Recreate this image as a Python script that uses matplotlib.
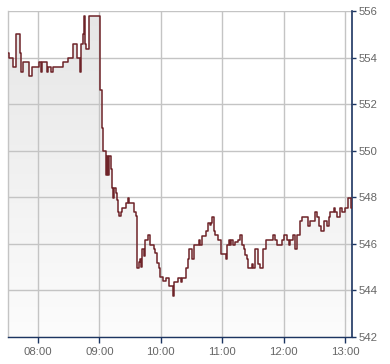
import matplotlib
matplotlib.use("Agg")
import matplotlib.pyplot as plt
import numpy as np

# minutes after 07:30 where the price changes, and the price from then on
minutes = [0, 2, 6, 9, 12, 13, 15, 21, 24, 31, 33, 34, 39, 40, 43, 45, 54, 59,
           64, 68, 71, 72, 74, 75, 76, 77, 80, 91, 93, 94, 96, 97, 98, 99, 101,
           102, 103, 104, 106, 107, 108, 109, 111, 112, 116, 118, 119, 124, 126,
           127, 129, 130, 131, 132, 134, 135, 137, 139, 143, 144, 146, 148, 149,
           152, 155, 158, 162, 163, 167, 170, 171, 175, 177, 178, 180, 182, 187,
           188, 190, 194, 196, 198, 199, 200, 202, 203, 206, 209, 214, 215, 217,
           218, 219, 221, 222, 225, 227, 229, 231, 232, 234, 235, 239, 240, 242,
           245, 247, 250, 253, 260, 262, 264, 268, 270, 273, 275, 276, 279, 281,
           283, 286, 288, 294, 296, 301, 303, 305, 307, 309, 312, 314, 315, 319,
           320, 322, 325, 327, 330, 333, 336, 337]
prices = [554.2, 554.0, 553.6, 555.0, 554.2, 553.4, 553.8, 553.2, 553.6, 553.8,
          553.4, 553.8, 553.4, 553.6, 553.4, 553.6, 553.8, 554.0, 554.57, 554.0,
          553.4, 554.57, 555.0, 555.8, 554.57, 554.37, 555.79, 552.6, 550.97,
          549.97, 548.97, 549.76, 548.97, 549.76, 549.2, 548.4, 547.97, 548.4,
          548.19, 547.9, 547.36, 547.18, 547.36, 547.54, 547.76, 547.97, 547.76,
          547.36, 547.18, 544.97, 545.2, 545.33, 545.0, 545.76, 545.5, 546.15,
          546.36, 545.97, 545.76, 545.6, 545.18, 544.97, 544.57, 544.4, 544.54,
          544.18, 543.78, 544.36, 544.54, 544.36, 544.54, 544.97, 545.33, 545.76,
          545.36, 545.97, 546.18, 545.97, 546.33, 546.54, 546.9, 546.8, 546.9,
          547.15, 546.54, 546.4, 546.18, 545.58, 545.36, 545.97, 546.18, 545.97,
          546.18, 545.97, 546.1, 546.18, 546.36, 545.97, 545.76, 545.54, 545.36,
          544.97, 545.14, 544.97, 545.76, 545.14, 544.97, 545.76, 546.15, 546.36,
          546.15, 545.97, 546.15, 546.36, 546.15, 545.97, 546.15, 546.36, 545.76,
          546.36, 546.97, 547.15, 546.75, 546.97, 547.36, 547.15, 546.75, 546.57,
          546.97, 546.75, 547.15, 547.36, 547.54, 547.36, 547.15, 547.54, 547.36,
          547.54, 547.97, 547.54, 547.54]

x_tick_labels = ["08:00", "09:00", "10:00", "11:00", "12:00", "13:00"]
y_ticks = [542, 544, 546, 548, 550, 552, 554, 556]

start = 450  # 07:30 in minutes after midnight
t = np.array(minutes) + start
p = np.array(prices)

fig = plt.figure(figsize=(3.9, 3.64), dpi=100)
ax = fig.add_axes([8 / 390, 27 / 364, 344 / 390, 326 / 364])

xmin, xmax = 450.7, 786.8
ymin, ymax = 542, 556
ax.set_xlim(xmin, xmax)
ax.set_ylim(ymin, ymax)

grid_c = "#c4c4c4"
navy = "#1c3561"
line_c = "#6e2328"

# gradient fill under the step line
grad = np.linspace(0, 1, 256).reshape(-1, 1)
cmap = matplotlib.colors.LinearSegmentedColormap.from_list(
    "g", ["#fcfcfc", "#e6e6e6"])
im = ax.imshow(grad, extent=[xmin, xmax, ymin, ymax], origin="lower",
               aspect="auto", cmap=cmap, zorder=1)
poly = ax.fill_between(t, p, ymin, step="post", facecolor="none",
                       edgecolor="none", zorder=1)
path = poly.get_paths()[0]
im.set_clip_path(matplotlib.patches.PathPatch(path, transform=ax.transData))

for h in range(6):
    ax.axvline(480 + 60 * h, color=grid_c, lw=1.0, zorder=2)
for v in y_ticks:
    ax.axhline(v, color=grid_c, lw=1.0, zorder=2)

ax.step(t, p, where="post", color=line_c, lw=1.1, zorder=3)

ax.set_xticks([480 + 60 * h for h in range(6)])
ax.set_xticklabels(x_tick_labels)
ax.set_yticks(y_ticks)
ax.set_yticklabels([str(v) for v in y_ticks])
ax.yaxis.tick_right()

for lab in ax.get_xticklabels() + ax.get_yticklabels():
    lab.set_fontfamily("Liberation Sans")
    lab.set_fontsize(8.2)
    lab.set_color("#666666")

ax.tick_params(axis="x", direction="out", length=4, width=1, color=navy, pad=3)
ax.tick_params(axis="y", direction="out", length=3, width=1, color=navy, pad=1.5)

ax.spines["top"].set_visible(False)
ax.spines["left"].set_color(grid_c)
ax.spines["left"].set_linewidth(1.0)
ax.spines["bottom"].set_color(navy)
ax.spines["bottom"].set_linewidth(1.0)
ax.spines["right"].set_color(navy)
ax.spines["right"].set_linewidth(1.2)
ax.set_facecolor("white")

fig.savefig("out.png", dpi=100)
